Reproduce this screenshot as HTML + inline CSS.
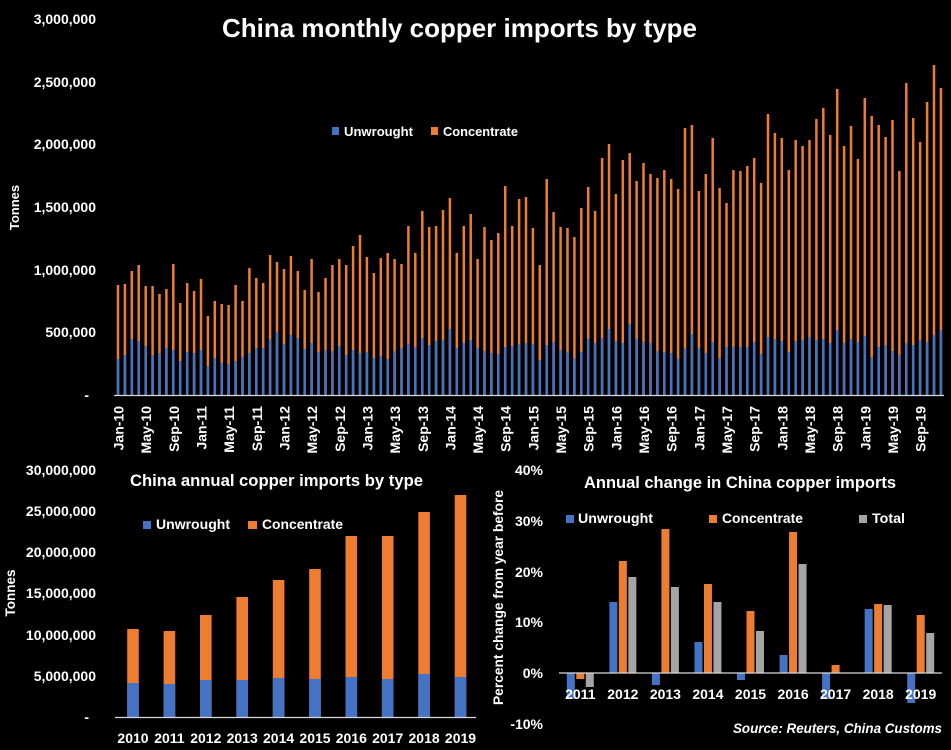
<!DOCTYPE html>
<html>
<head>
<meta charset="utf-8">
<style>
html,body{margin:0;padding:0;background:#000;}
svg{display:block;}
text{font-family:"Liberation Sans",Arial,sans-serif;font-weight:bold;fill:#fff;}
</style>
</head>
<body>
<svg width="951" height="750" viewBox="0 0 951 750" xmlns="http://www.w3.org/2000/svg">
<rect x="0" y="0" width="951" height="750" fill="#000"/>

<!-- ================= TOP CHART ================= -->
<text x="222" y="37" font-size="26" textLength="475" lengthAdjust="spacingAndGlyphs">China monthly copper imports by type</text>

<!-- legend -->
<rect x="332" y="127" width="7" height="8" fill="#4472C4"/>
<text x="344" y="136" font-size="13" textLength="69" lengthAdjust="spacingAndGlyphs">Unwrought</text>
<rect x="431" y="127" width="7" height="8" fill="#ED7D31"/>
<text x="443" y="136" font-size="13" textLength="75" lengthAdjust="spacingAndGlyphs">Concentrate</text>

<!-- y labels -->
<g font-size="14" text-anchor="end">
<text x="96" y="24">3,000,000</text>
<text x="96" y="87">2,500,000</text>
<text x="96" y="149">2,000,000</text>
<text x="96" y="212">1,500,000</text>
<text x="96" y="275">1,000,000</text>
<text x="96" y="337">500,000</text>
<text x="89" y="400">-</text>
</g>
<text transform="translate(19,207.5) rotate(-90)" font-size="13" text-anchor="middle">Tonnes</text>

<!-- bars -->
<path fill="none" stroke="#ED7D31" stroke-width="2.5" d="M118 395V285M124.9 395V284M131.8 395V271M138.7 395V265M145.7 395V286M152.6 395V286M159.5 395V294M166.4 395V289M173.3 395V264M180.2 395V303M187.2 395V283M194.1 395V291M201 395V279M207.9 395V316M214.8 395V301M221.7 395V304M228.6 395V305M235.6 395V285M242.5 395V301M249.4 395V268M256.3 395V278M263.2 395V283M270.1 395V255M277 395V262M284 395V269M290.9 395V256M297.8 395V271M304.7 395V290M311.6 395V259M318.5 395V292M325.5 395V278M332.4 395V265M339.3 395V259M346.2 395V265M353.1 395V246M360 395V235M366.9 395V257M373.9 395V273M380.8 395V258M387.7 395V253M394.6 395V259M401.5 395V264M408.4 395V226M415.3 395V253M422.3 395V211M429.2 395V227M436.1 395V226M443 395V210M449.9 395V198M456.8 395V253M463.8 395V226M470.7 395V214M477.6 395V259M484.5 395V227M491.4 395V240M498.3 395V233M505.2 395V186M512.2 395V226M519.1 395V199M526 395V197M532.9 395V228M539.8 395V265M546.7 395V179M553.6 395V212M560.6 395V227M567.5 395V228M574.4 395V237M581.3 395V208M588.2 395V187M595.1 395V211M602.1 395V158M609 395V144M615.9 395V194M622.8 395V160M629.7 395V153M636.6 395V181M643.5 395V163M650.5 395V174M657.4 395V178M664.3 395V170M671.2 395V179M678.1 395V189M685 395V128M691.9 395V125M698.9 395V191M705.8 395V174M712.7 395V138M719.6 395V188M726.5 395V203M733.4 395V170M740.4 395V171M747.3 395V166M754.2 395V158M761.1 395V183M768 395V114M774.9 395V133M781.8 395V138M788.8 395V170M795.7 395V140M802.6 395V146M809.5 395V140M816.4 395V119M823.3 395V108M830.2 395V135M837.2 395V89M844.1 395V146M851 395V126M857.9 395V159M864.8 395V98M871.7 395V116M878.7 395V125M885.6 395V137M892.5 395V120M899.4 395V171M906.3 395V83M913.2 395V118M920.1 395V142M927.1 395V102M934 395V65M940.9 395V88"/>
<path fill="none" stroke="#4472C4" stroke-width="2.5" d="M118 395V359M124.9 395V355M131.8 395V339M138.7 395V341M145.7 395V346M152.6 395V355M159.5 395V353M166.4 395V348M173.3 395V350M180.2 395V361M187.2 395V352M194.1 395V353M201 395V350M207.9 395V366M214.8 395V358M221.7 395V363M228.6 395V364M235.6 395V361M242.5 395V357M249.4 395V353M256.3 395V348M263.2 395V348M270.1 395V339M277 395V332M284 395V344M290.9 395V335M297.8 395V338M304.7 395V349M311.6 395V343M318.5 395V352M325.5 395V350M332.4 395V351M339.3 395V346M346.2 395V355M353.1 395V350M360 395V353M366.9 395V352M373.9 395V358M380.8 395V356M387.7 395V359M394.6 395V351M401.5 395V348M408.4 395V344M415.3 395V347M422.3 395V338M429.2 395V345M436.1 395V341M443 395V340M449.9 395V329M456.8 395V348M463.8 395V343M470.7 395V340M477.6 395V348M484.5 395V351M491.4 395V353M498.3 395V354M505.2 395V347M512.2 395V346M519.1 395V344M526 395V343M532.9 395V344M539.8 395V360M546.7 395V345M553.6 395V342M560.6 395V350M567.5 395V352M574.4 395V358M581.3 395V352M588.2 395V339M595.1 395V343M602.1 395V338M609 395V329M615.9 395V341M622.8 395V343M629.7 395V324M636.6 395V339M643.5 395V342M650.5 395V343M657.4 395V351M664.3 395V352M671.2 395V353M678.1 395V359M685 395V348M691.9 395V334M698.9 395V348M705.8 395V353M712.7 395V342M719.6 395V358M726.5 395V347M733.4 395V347M740.4 395V347M747.3 395V347M754.2 395V342M761.1 395V354M768 395V337M774.9 395V339M781.8 395V341M788.8 395V352M795.7 395V341M802.6 395V340M809.5 395V337M816.4 395V340M823.3 395V339M830.2 395V343M837.2 395V330M844.1 395V343M851 395V339M857.9 395V342M864.8 395V336M871.7 395V357M878.7 395V347M885.6 395V345M892.5 395V351M899.4 395V355M906.3 395V343M913.2 395V345M920.1 395V340M927.1 395V342M934 395V335M940.9 395V330"/>

<line x1="114" y1="395.5" x2="944" y2="395.5" stroke="#D9D9D9" stroke-width="1.2"/>

<!-- x labels -->
<g font-size="14" text-anchor="end">
<text transform="translate(123.5,406) rotate(-90)">Jan-10</text>
<text transform="translate(151.2,406) rotate(-90)">May-10</text>
<text transform="translate(178.8,406) rotate(-90)">Sep-10</text>
<text transform="translate(206.5,406) rotate(-90)">Jan-11</text>
<text transform="translate(234.1,406) rotate(-90)">May-11</text>
<text transform="translate(261.8,406) rotate(-90)">Sep-11</text>
<text transform="translate(289.5,406) rotate(-90)">Jan-12</text>
<text transform="translate(317.1,406) rotate(-90)">May-12</text>
<text transform="translate(344.8,406) rotate(-90)">Sep-12</text>
<text transform="translate(372.4,406) rotate(-90)">Jan-13</text>
<text transform="translate(400.1,406) rotate(-90)">May-13</text>
<text transform="translate(427.8,406) rotate(-90)">Sep-13</text>
<text transform="translate(455.4,406) rotate(-90)">Jan-14</text>
<text transform="translate(483.1,406) rotate(-90)">May-14</text>
<text transform="translate(510.7,406) rotate(-90)">Sep-14</text>
<text transform="translate(538.4,406) rotate(-90)">Jan-15</text>
<text transform="translate(566.1,406) rotate(-90)">May-15</text>
<text transform="translate(593.7,406) rotate(-90)">Sep-15</text>
<text transform="translate(621.4,406) rotate(-90)">Jan-16</text>
<text transform="translate(649,406) rotate(-90)">May-16</text>
<text transform="translate(676.7,406) rotate(-90)">Sep-16</text>
<text transform="translate(704.4,406) rotate(-90)">Jan-17</text>
<text transform="translate(732,406) rotate(-90)">May-17</text>
<text transform="translate(759.7,406) rotate(-90)">Sep-17</text>
<text transform="translate(787.3,406) rotate(-90)">Jan-18</text>
<text transform="translate(815,406) rotate(-90)">May-18</text>
<text transform="translate(842.7,406) rotate(-90)">Sep-18</text>
<text transform="translate(870.3,406) rotate(-90)">Jan-19</text>
<text transform="translate(898,406) rotate(-90)">May-19</text>
<text transform="translate(925.6,406) rotate(-90)">Sep-19</text>
</g>

<!-- ================= BOTTOM LEFT ================= -->
<text x="130" y="486" font-size="17" textLength="293" lengthAdjust="spacingAndGlyphs">China annual copper imports by type</text>
<rect x="143" y="521" width="8" height="8" fill="#4472C4"/>
<text x="156" y="529" font-size="14" textLength="74" lengthAdjust="spacingAndGlyphs">Unwrought</text>
<rect x="248" y="521" width="9" height="8" fill="#ED7D31"/>
<text x="262" y="529" font-size="14" textLength="81" lengthAdjust="spacingAndGlyphs">Concentrate</text>

<g font-size="14" text-anchor="end">
<text x="96" y="475">30,000,000</text>
<text x="96" y="516">25,000,000</text>
<text x="96" y="557">20,000,000</text>
<text x="96" y="598">15,000,000</text>
<text x="96" y="640">10,000,000</text>
<text x="96" y="681">5,000,000</text>
<text x="89" y="722">-</text>
</g>
<text transform="translate(15,593) rotate(-90)" font-size="14" text-anchor="middle" textLength="47" lengthAdjust="spacingAndGlyphs">Tonnes</text>

<g fill="#ED7D31">
<rect x="127.2" y="629" width="11.6" height="88"/>
<rect x="163.6" y="631" width="11.6" height="86"/>
<rect x="200" y="615" width="11.6" height="102"/>
<rect x="236.4" y="597" width="11.6" height="120"/>
<rect x="272.8" y="580" width="11.6" height="137"/>
<rect x="309.2" y="569" width="11.6" height="148"/>
<rect x="345.5" y="536" width="11.6" height="181"/>
<rect x="381.9" y="536" width="11.6" height="181"/>
<rect x="418.3" y="512" width="11.6" height="205"/>
<rect x="454.7" y="495" width="11.6" height="222"/>
</g>
<g fill="#4472C4">
<rect x="127.2" y="683" width="11.6" height="34"/>
<rect x="163.6" y="684" width="11.6" height="33"/>
<rect x="200" y="680" width="11.6" height="37"/>
<rect x="236.4" y="680" width="11.6" height="37"/>
<rect x="272.8" y="678" width="11.6" height="39"/>
<rect x="309.2" y="679" width="11.6" height="38"/>
<rect x="345.5" y="677" width="11.6" height="40"/>
<rect x="381.9" y="679" width="11.6" height="38"/>
<rect x="418.3" y="674" width="11.6" height="43"/>
<rect x="454.7" y="677" width="11.6" height="40"/>
</g>
<line x1="115" y1="717.5" x2="476" y2="717.5" stroke="#D9D9D9" stroke-width="1.2"/>

<g font-size="14" text-anchor="middle">
<text x="133" y="743">2010</text>
<text x="169.4" y="743">2011</text>
<text x="205.8" y="743">2012</text>
<text x="242.2" y="743">2013</text>
<text x="278.6" y="743">2014</text>
<text x="315" y="743">2015</text>
<text x="351.3" y="743">2016</text>
<text x="387.7" y="743">2017</text>
<text x="424.1" y="743">2018</text>
<text x="460.5" y="743">2019</text>
</g>

<!-- ================= BOTTOM RIGHT ================= -->
<text x="584" y="488" font-size="17" textLength="312" lengthAdjust="spacingAndGlyphs">Annual change in China copper imports</text>
<rect x="566" y="515" width="8" height="8" fill="#4472C4"/>
<text x="578" y="523" font-size="14" textLength="75" lengthAdjust="spacingAndGlyphs">Unwrought</text>
<rect x="709" y="515" width="8" height="8" fill="#ED7D31"/>
<text x="722" y="523" font-size="14" textLength="81" lengthAdjust="spacingAndGlyphs">Concentrate</text>
<rect x="859" y="515" width="8" height="8" fill="#A5A5A5"/>
<text x="872" y="523" font-size="14" textLength="33" lengthAdjust="spacingAndGlyphs">Total</text>

<g font-size="14" text-anchor="end">
<text x="543" y="475">40%</text>
<text x="543" y="526">30%</text>
<text x="543" y="577">20%</text>
<text x="543" y="627">10%</text>
<text x="543" y="678">0%</text>
<text x="543" y="729">-10%</text>
</g>
<text transform="translate(503,597.5) rotate(-90)" font-size="14" text-anchor="middle" textLength="215" lengthAdjust="spacingAndGlyphs">Percent change from year before</text>

<g fill="#4472C4">
<rect x="566.8" y="673" width="8" height="26"/>
<rect x="609.35" y="602" width="8" height="71"/>
<rect x="651.9" y="673" width="8" height="12"/>
<rect x="694.45" y="642" width="8" height="31"/>
<rect x="737" y="673" width="8" height="7"/>
<rect x="779.55" y="655" width="8" height="18"/>
<rect x="822.1" y="673" width="8" height="26"/>
<rect x="864.65" y="609" width="8" height="64"/>
<rect x="907.2" y="673" width="8" height="30"/>
</g>
<g fill="#ED7D31">
<rect x="576.3" y="673" width="8" height="6"/>
<rect x="618.85" y="561" width="8" height="112"/>
<rect x="661.4" y="529" width="8" height="144"/>
<rect x="703.95" y="584" width="8" height="89"/>
<rect x="746.5" y="611" width="8" height="62"/>
<rect x="789.05" y="532" width="8" height="141"/>
<rect x="831.6" y="665" width="8" height="8"/>
<rect x="874.15" y="604" width="8" height="69"/>
<rect x="916.7" y="615" width="8" height="58"/>
</g>
<g fill="#A5A5A5">
<rect x="585.8" y="673" width="8" height="14"/>
<rect x="628.35" y="577" width="8" height="96"/>
<rect x="670.9" y="587" width="8" height="86"/>
<rect x="713.45" y="602" width="8" height="71"/>
<rect x="756" y="631" width="8" height="42"/>
<rect x="798.55" y="564" width="8" height="109"/>
<rect x="883.65" y="605" width="8" height="68"/>
<rect x="926.2" y="633" width="8" height="40"/>
</g>
<line x1="559" y1="673" x2="942" y2="673" stroke="#D9D9D9" stroke-width="1.2"/>

<g font-size="14" text-anchor="middle">
<text x="580.3" y="699">2011</text>
<text x="622.85" y="699">2012</text>
<text x="665.4" y="699">2013</text>
<text x="707.95" y="699">2014</text>
<text x="750.5" y="699">2015</text>
<text x="793.05" y="699">2016</text>
<text x="835.6" y="699">2017</text>
<text x="878.15" y="699">2018</text>
<text x="920.7" y="699">2019</text>
</g>

<text x="733" y="733" font-size="14" font-style="italic" textLength="209" lengthAdjust="spacingAndGlyphs">Source: Reuters, China Customs</text>
</svg>
</body>
</html>
